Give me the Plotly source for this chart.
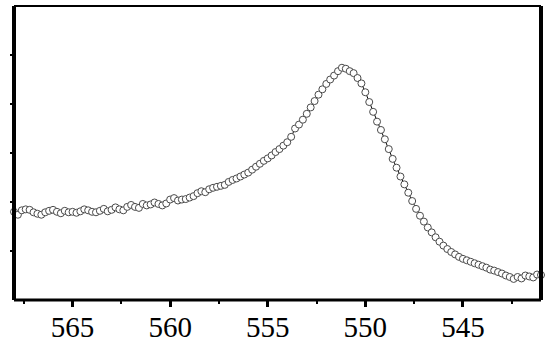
import plotly.graph_objects as go

# Binding energy (eV)
energy = [
    568.0, 567.8, 567.6, 567.4, 567.2, 567.0, 566.8, 566.6, 566.4, 566.2,
    566.0, 565.8, 565.6, 565.4, 565.2, 565.0, 564.8, 564.6, 564.4, 564.2,
    564.0, 563.8, 563.6, 563.4, 563.2, 563.0, 562.8, 562.6, 562.4, 562.2,
    562.0, 561.8, 561.6, 561.4, 561.2, 561.0, 560.8, 560.6, 560.4, 560.2,
    560.0, 559.8, 559.6, 559.4, 559.2, 559.0, 558.8, 558.6, 558.4, 558.2,
    558.0, 557.8, 557.6, 557.4, 557.2, 557.0, 556.8, 556.6, 556.4, 556.2,
    556.0, 555.8, 555.6, 555.4, 555.2, 555.0, 554.8, 554.6, 554.4, 554.2,
    554.0, 553.8, 553.6, 553.4, 553.2, 553.0, 552.8, 552.6, 552.4, 552.2,
    552.0, 551.8, 551.6, 551.4, 551.2, 551.0, 550.8, 550.6, 550.4, 550.2,
    550.0, 549.8, 549.6, 549.4, 549.2, 549.0, 548.8, 548.6, 548.4, 548.2,
    548.0, 547.8, 547.6, 547.4, 547.2, 547.0, 546.8, 546.6, 546.4, 546.2,
    546.0, 545.8, 545.6, 545.4, 545.2, 545.0, 544.8, 544.6, 544.4, 544.2,
    544.0, 543.8, 543.6, 543.4, 543.2, 543.0, 542.8, 542.6, 542.4, 542.2,
    542.0, 541.8, 541.6, 541.4, 541.2, 541.0,
]

# Intensity (arbitrary units)
intensity = [
    1.80, 1.74, 1.83, 1.85, 1.84, 1.79, 1.76, 1.74, 1.79, 1.82,
    1.84, 1.80, 1.77, 1.82, 1.79, 1.80, 1.78, 1.81, 1.85, 1.83,
    1.80, 1.79, 1.82, 1.86, 1.81, 1.84, 1.89, 1.85, 1.83, 1.90,
    1.94, 1.90, 1.88, 1.96, 1.93, 1.95, 1.99, 1.96, 1.93, 1.97,
    2.05, 2.08, 2.03, 2.05, 2.06, 2.09, 2.12, 2.18, 2.22, 2.20,
    2.26, 2.29, 2.31, 2.33, 2.35, 2.41, 2.45, 2.48, 2.52, 2.56,
    2.60, 2.66, 2.72, 2.78, 2.84, 2.89, 2.95, 3.02, 3.08, 3.15,
    3.22, 3.33, 3.50, 3.58, 3.68, 3.80, 3.93, 4.06, 4.19, 4.30,
    4.41, 4.50, 4.58, 4.67, 4.74, 4.72, 4.67, 4.63, 4.53, 4.42,
    4.24, 4.04, 3.84, 3.64, 3.47, 3.28, 3.08, 2.88, 2.70, 2.52,
    2.36, 2.19, 2.02, 1.86, 1.72, 1.60, 1.48, 1.38, 1.28, 1.19,
    1.11, 1.04, 0.98, 0.93, 0.88, 0.84, 0.81, 0.78, 0.75, 0.72,
    0.69, 0.66, 0.62, 0.60, 0.57, 0.54, 0.50, 0.47, 0.43, 0.47,
    0.44, 0.50, 0.48, 0.46, 0.52, 0.51,
]

x_ticks = [565, 560, 555, 550, 545]
x_tick_labels = ["565", "560", "555", "550", "545"]
y_ticks = [1, 2, 3, 4, 5]

fig = go.Figure()
fig.add_trace(go.Scatter(
    x=energy, y=intensity, mode="lines+markers",
    line=dict(color="black", width=1),
    marker=dict(symbol="circle", size=7, color="white",
                line=dict(color="#4a4a4a", width=1)),
    showlegend=False, cliponaxis=False,
))

fig.update_layout(
    width=550, height=345,
    margin=dict(l=14, r=9, t=6, b=45, autoexpand=False),
    paper_bgcolor="white", plot_bgcolor="white",
    xaxis=dict(
        range=[568, 541], tickvals=x_ticks, ticktext=x_tick_labels,
        ticks="outside", ticklen=6, tickwidth=2.5, tickcolor="black",
        minor=dict(dtick=2.5, tick0=0, ticks="outside", ticklen=3,
                   tickwidth=2, tickcolor="black"),
        showgrid=False, zeroline=False, showline=False, automargin=False,
        ticklabelstandoff=-5,
        tickfont=dict(family="Liberation Serif, Times New Roman, serif",
                      size=29, color="black"),
    ),
    yaxis=dict(
        range=[0, 6], tickvals=y_ticks, showticklabels=False,
        ticks="outside", ticklen=3, tickwidth=2, tickcolor="black",
        showgrid=False, zeroline=False, showline=False, automargin=False,
    ),
    shapes=[
        dict(type="line", xref="paper", yref="paper", x0=0, x1=0, y0=0, y1=1,
             line=dict(color="black", width=4)),
        dict(type="line", xref="paper", yref="paper", x0=1, x1=1, y0=0, y1=1,
             line=dict(color="black", width=4)),
        dict(type="line", xref="paper", yref="paper", x0=0, x1=1, y0=0, y1=0,
             line=dict(color="black", width=3)),
        dict(type="line", xref="paper", yref="paper", x0=0, x1=1, y0=1, y1=1,
             line=dict(color="black", width=2)),
    ],
)

fig.write_html(
    "out.html",
    config={"displayModeBar": False},
    post_script="document.body.style.margin='0';document.body.style.padding='0';",
)
